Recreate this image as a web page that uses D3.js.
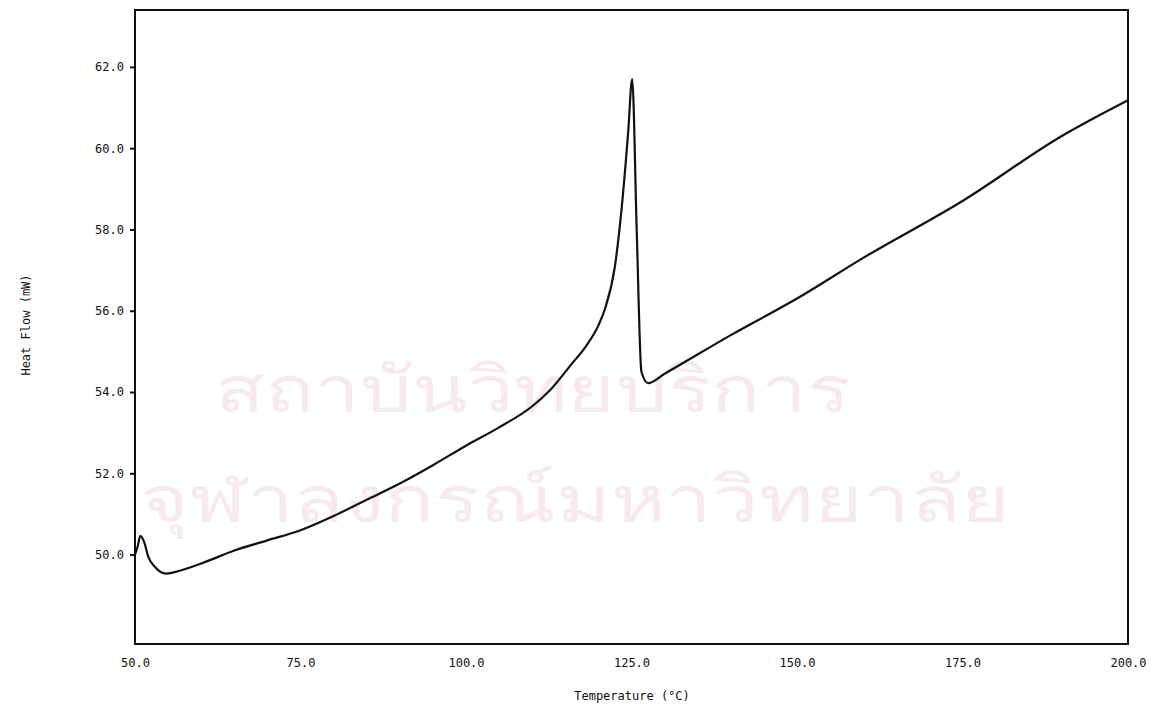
<!DOCTYPE html>
<html><head><meta charset="utf-8">
<script src="https://cdn.jsdelivr.net/npm/d3@7"></script>
<style>body{margin:0;background:#fff}text{font-family:"DejaVu Sans Mono",monospace;font-size:12px;fill:#111}</style>
</head><body><svg id="c" width="1151" height="727"></svg>
<script>
// readings (deg C, mW)
var temps = [50.0, 50.4, 50.8, 51.4, 52.0, 53.0, 54.7, 56, 60, 65, 70, 75, 80, 85, 90, 95, 100, 105, 110, 113, 116, 118, 120, 121, 122.5, 123.5, 124.5, 125.1, 125.8, 126.5, 127.5, 130, 140, 150, 160, 175, 190, 200];
var flow  = [50.0, 50.2, 50.46, 50.3, 49.95, 49.7, 49.53, 49.57, 49.78, 50.1, 50.35, 50.6, 50.95, 51.35, 51.75, 52.2, 52.68, 53.13, 53.65, 54.1, 54.7, 55.1, 55.64, 56.05, 57.1, 58.5, 60.4, 61.7, 57.9, 54.5, 54.22, 54.45, 55.4, 56.3, 57.3, 58.7, 60.3, 61.18];
var xTicks = [50, 75, 100, 125, 150, 175, 200];
var yTicks = [50, 52, 54, 56, 58, 60, 62];

var svg = d3.select("#c");
var x = d3.scaleLinear().domain([50, 200]).range([135, 1128]);
var y = d3.scaleLinear().domain([47.8, 63.4]).range([644, 10]);

// faint watermark
var wm = svg.append("g").attr("opacity", 0.1);
wm.append("text").attr("x", 215).attr("y", 412).attr("textLength", 635).attr("lengthAdjust", "spacingAndGlyphs")
  .style("font-size", "64px").style("font-family", "sans-serif").style("fill", "#c0306a").text("สถาบันวิทยบริการ");
wm.append("text").attr("x", 140).attr("y", 522).attr("textLength", 870).attr("lengthAdjust", "spacingAndGlyphs")
  .style("font-size", "64px").style("font-family", "sans-serif").style("fill", "#c0306a").text("จุฬาลงกรณ์มหาวิทยาลัย");

svg.append("rect").attr("x", x(50)).attr("y", y(63.4)).attr("width", x(200) - x(50)).attr("height", y(47.8) - y(63.4))
  .attr("fill", "none").attr("stroke", "#111").attr("stroke-width", 2);

var xa = svg.append("g").attr("transform", "translate(0," + y(47.8) + ")")
  .call(d3.axisBottom(x).tickValues(xTicks).tickSize(0).tickPadding(14).tickFormat(d3.format(".1f")));
xa.select(".domain").remove();
var ya = svg.append("g").attr("transform", "translate(" + x(50) + ",0)")
  .call(d3.axisLeft(y).tickValues(yTicks).tickSize(5).tickPadding(6).tickFormat(d3.format(".1f")));
ya.select(".domain").remove();
ya.selectAll("line").attr("stroke", "#111").attr("stroke-width", 2);

svg.append("text").attr("x", 632).attr("y", 700).attr("text-anchor", "middle").text("Temperature (°C)");
svg.append("text").attr("transform", "translate(30,325) rotate(-90)").attr("text-anchor", "middle").text("Heat Flow (mW)");

var line = d3.line().x(function (d, i) { return x(temps[i]); }).y(function (d) { return y(d); }).curve(d3.curveMonotoneX);
svg.append("path").datum(flow).attr("d", line).attr("fill", "none").attr("stroke", "#111").attr("stroke-width", 2.2);
</script></body></html>
